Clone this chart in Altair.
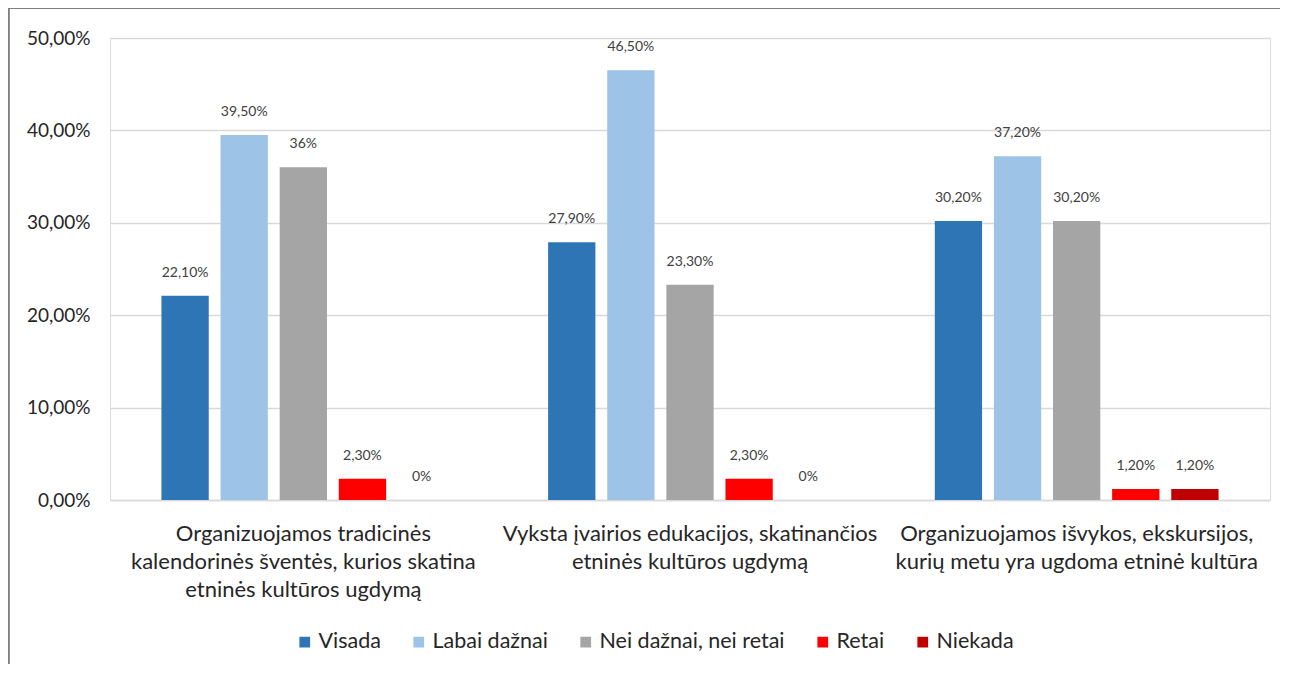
import altair as alt
import pandas as pd

categories = [
    "Organizuojamos tradicinės|kalendorinės šventės, kurios skatina|etninės kultūros ugdymą",
    "Vyksta įvairios edukacijos, skatinančios|etninės kultūros ugdymą",
    "Organizuojamos išvykos, ekskursijos,|kurių metu yra ugdoma etninė kultūra",
]
series = ["Visada", "Labai dažnai", "Nei dažnai, nei retai", "Retai", "Niekada"]
colors = ["#2E75B6", "#9DC3E6", "#A5A5A5", "#FF0000", "#C00000"]

values = [
    [0.221, 0.395, 0.36, 0.023, 0.0],
    [0.279, 0.465, 0.233, 0.023, 0.0],
    [0.302, 0.372, 0.302, 0.012, 0.012],
]
labels = [
    ["22,10%", "39,50%", "36%", "2,30%", "0%"],
    ["27,90%", "46,50%", "23,30%", "2,30%", "0%"],
    ["30,20%", "37,20%", "30,20%", "1,20%", "1,20%"],
]

rows = []
for ci, c in enumerate(categories):
    for si, s in enumerate(series):
        rows.append({"cat": c, "series": s, "value": values[ci][si], "label": labels[ci][si]})
df = pd.DataFrame(rows)

FONT = "Lato"
W, H = 1160, 462

x = alt.X("cat:N", sort=categories, scale=alt.Scale(paddingInner=0, paddingOuter=0),
          axis=alt.Axis(title=None, labelAngle=0, labelExpr="split(datum.label, '|')",
                        labelFontSize=22, labelColor="#262626", labelFont=FONT,
                        labelLineHeight=28, labelPadding=23, ticks=False,
                        domainColor="#d9d9d9", domainWidth=1.5, labelLimit=500))
xo = alt.XOffset("series:N", sort=series, scale=alt.Scale(paddingInner=0.2, paddingOuter=0.87))
y = alt.Y("value:Q", scale=alt.Scale(domain=[0, 0.5]),
          axis=alt.Axis(title=None, values=[0, 0.1, 0.2, 0.3, 0.4, 0.5],
                        labelExpr="replace(format(datum.value, '.2%'), '.', ',')",
                        labelFontSize=19, labelColor="#262626", labelFont=FONT,
                        labelPadding=20, ticks=False, domain=False,
                        gridColor="#d9d9d9", gridWidth=1.5))

color = alt.Color("series:N", sort=series, scale=alt.Scale(domain=series, range=colors),
                  legend=alt.Legend(title=None, orient="none", direction="horizontal",
                                    legendX=184, legendY=593, symbolType="square",
                                    symbolSize=115, symbolStrokeWidth=0, symbolOpacity=1,
                                    labelFontSize=21.5, labelFont=FONT, labelColor="#262626",
                                    columnPadding=27, labelOffset=3, labelLimit=400))

bars = alt.Chart(df).mark_bar(opacity=1).encode(x=x, xOffset=xo, y=y, color=color)
text = alt.Chart(df).mark_text(baseline="bottom", dy=-16, fontSize=14, font=FONT,
                               color="#404040").encode(
    x=alt.X("cat:N", sort=categories), xOffset=xo, y="value:Q", text="label:N")

border_left = alt.Chart(df).mark_rule(color="#7f7f7f", strokeWidth=1.2).encode(
    x=alt.value(-101.5), y=alt.value(-29.5), y2=alt.value(H + 300))
border_top = alt.Chart(df).mark_rule(color="#7f7f7f", strokeWidth=1.2).encode(
    x=alt.value(-101.5), x2=alt.value(W + 200), y=alt.value(-29.5))

chart = alt.layer(bars, text, border_left, border_top).properties(
    width=W, height=H,
    autosize=alt.AutoSizeParams(type="none"),
    padding={"left": 102, "top": 30, "right": 10, "bottom": 164},
).configure_view(stroke=None).configure(background="white")

chart.save("out.html", embed_options={"renderer": "svg", "actions": False})
